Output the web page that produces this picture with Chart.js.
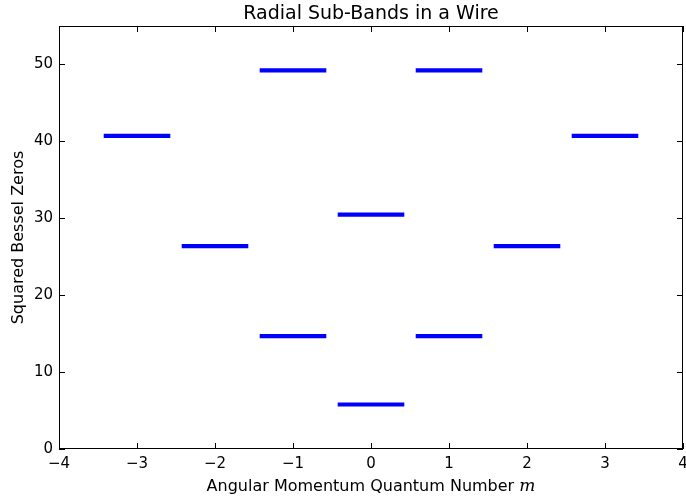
<!DOCTYPE html>
<html>
<head>
<meta charset="utf-8">
<script src="https://cdn.jsdelivr.net/npm/chart.js@4"></script>
<style>
  html, body { margin: 0; padding: 0; background: #fff; }
  #wrap { width: 686px; height: 498px; }
</style>
</head>
<body>
<div id="wrap"><canvas id="chart" width="686" height="498"></canvas></div>
<script>
// ─── DATA ───────────────────────────────────────────
// angular momentum number m for each sub-band
const mValues = [0, 0, 1, 1, -1, -1, 2, -2, 3, -3];
// squared Bessel zeros j_{|m|,n}^2
const besselZerosSq = [5.783, 30.471, 14.682, 49.218, 14.682, 49.218, 26.374, 26.374, 40.706, 40.706];
const halfWidth = 0.4;
const xTicks = [-4, -3, -2, -1, 0, 1, 2, 3, 4];
const yTicks = [0, 10, 20, 30, 40, 50];

const BLUE = '#0000ff';
const FONT = "'DejaVu Sans', sans-serif";

const datasets = mValues.map((m, i) => ({
  data: [{ x: m - halfWidth, y: besselZerosSq[i] }, { x: m + halfWidth, y: besselZerosSq[i] }],
  borderColor: BLUE,
  borderWidth: 4.2,
  pointRadius: 0,
  borderCapStyle: 'square',
  fill: false,
}));

const fmt = v => (v < 0 ? '\u2212' + Math.abs(v) : String(v));

// ─── FRAME, INWARD TICKS, TITLES ────────────────────
const framePlugin = {
  id: 'frame',
  afterDraw(chart) {
    const { ctx, chartArea: a, scales } = chart;
    ctx.save();
    ctx.strokeStyle = '#000';
    ctx.lineWidth = 1;
    ctx.beginPath();
    xTicks.forEach(v => {
      const x = Math.round(scales.x.getPixelForValue(v)) + 0.5;
      ctx.moveTo(x, a.bottom); ctx.lineTo(x, a.bottom - 6);
      ctx.moveTo(x, a.top); ctx.lineTo(x, a.top + 6);
    });
    yTicks.forEach(v => {
      const y = Math.round(scales.y.getPixelForValue(v)) + 0.5;
      ctx.moveTo(a.left, y); ctx.lineTo(a.left + 6, y);
      ctx.moveTo(a.right, y); ctx.lineTo(a.right - 6, y);
    });
    ctx.stroke();
    ctx.strokeRect(a.left + 0.5, a.top + 0.5, a.right - a.left - 1, a.bottom - a.top - 1);

    ctx.fillStyle = '#000';
    const cx = (a.left + a.right) / 2;
    // title
    ctx.font = '19px ' + FONT;
    ctx.textAlign = 'center';
    ctx.textBaseline = 'alphabetic';
    ctx.fillText('Radial Sub-Bands in a Wire', cx, 19);

    // x axis title with italic m
    const label = 'Angular Momentum Quantum Number ';
    ctx.font = '16px ' + FONT;
    const w1 = ctx.measureText(label).width;
    ctx.font = "italic 17px 'DejaVu Serif', serif";
    const w2 = ctx.measureText('m').width;
    let x0 = cx - (w1 + w2) / 2;
    ctx.textAlign = 'left';
    ctx.font = '16px ' + FONT;
    ctx.fillText(label, x0, 491);
    ctx.font = "italic 17px 'DejaVu Serif', serif";
    ctx.fillText('m', x0 + w1, 491);

    // y axis title
    ctx.font = '16px ' + FONT;
    ctx.translate(19, (a.top + a.bottom) / 2);
    ctx.rotate(-Math.PI / 2);
    ctx.textAlign = 'center';
    ctx.textBaseline = 'middle';
    ctx.fillText('Squared Bessel Zeros', 0, 0);
    ctx.restore();
  }
};

new Chart(document.getElementById('chart'), {
  type: 'line',
  data: { datasets },
  plugins: [framePlugin],
  options: {
    responsive: false,
    animation: false,
    events: [],
    layout: { padding: { top: 26, right: 3, left: 0, bottom: 0 } },
    plugins: { legend: { display: false }, tooltip: { enabled: false }, title: { display: false } },
    scales: {
      x: {
        type: 'linear',
        min: -4, max: 4,
        grid: { display: false, drawTicks: false },
        border: { display: false },
        afterBuildTicks: s => { s.ticks = xTicks.map(v => ({ value: v })); },
        afterFit: s => { s.height = 49; s.paddingLeft = 0; s.paddingRight = 0; },
        ticks: { color: '#000', padding: 6, maxRotation: 0, font: { family: FONT, size: 15 }, callback: fmt },
      },
      y: {
        type: 'linear',
        min: 0, max: 55,
        grid: { display: false, drawTicks: false },
        border: { display: false },
        afterBuildTicks: s => { s.ticks = yTicks.map(v => ({ value: v })); },
        afterFit: s => { s.width = 59; s.paddingTop = 0; s.paddingBottom = 0; },
        ticks: { color: '#000', padding: 6, font: { family: FONT, size: 15 }, callback: fmt },
      }
    }
  }
});
</script>
</body>
</html>
